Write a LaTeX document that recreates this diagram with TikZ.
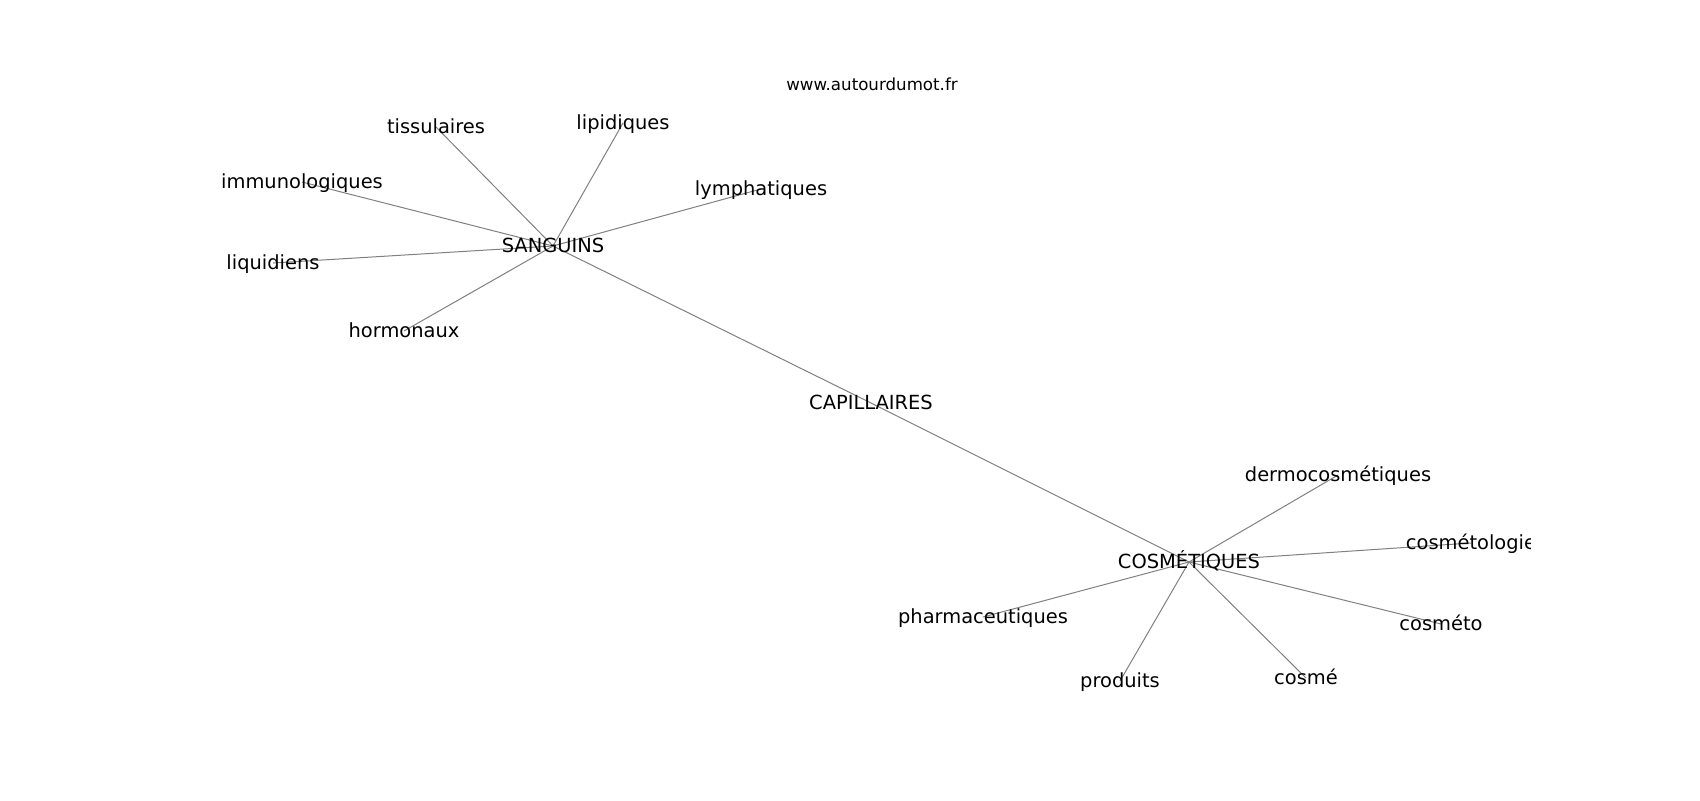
\documentclass[tikz,border=0pt]{standalone}
\usepackage{fontspec}
\setmainfont{DejaVu Sans}
\usetikzlibrary{backgrounds}
\tikzset{
  word/.style={
    inner sep=0pt, anchor=center, text height=1.0em, text depth=0pt,
    font=\fontsize{14}{17}\selectfont, color=black
  },
  link/.style={
    draw, color=black!50, line width=0.72pt
  }
}

\begin{document}
\begin{tikzpicture}[x=0.72pt, y=-0.72pt]
        \useasboundingbox (0,0) rectangle (1700,800);
        \node[word, font=\fontsize{12}{14}\selectfont] (site) at (872,84) {www.autourdumot.fr};

        \begin{scope}
        \clip (212.5,96) rectangle (1530,712);
        \node[word] (capi) at (871,403) {CAPILLAIRES};
        \node[word] (sang) at (553,246) {SANGUINS};
        \node[word] (cosm) at (1189,562) {COSMÉTIQUES};

        \node[word] (tiss) at (436,127) {tissulaires};
        \node[word] (lipi) at (623,123) {lipidiques};
        \node[word] (immu) at (302,182) {immunologiques};
        \node[word] (lymp) at (761,189) {lymphatiques};
        \node[word] (liqu) at (273,263) {liquidiens};
        \node[word] (horm) at (404,331) {hormonaux};

        \node[word] (derm) at (1338,475) {dermocosmétiques};
        \node[word] (logi) at (1471,543) {cosmétologie};
        \node[word] (phar) at (983,617) {pharmaceutiques};
        \node[word] (meto) at (1441,624) {cosméto};
        \node[word] (prod) at (1120,681) {produits};
        \node[word] (smee) at (1306,678) {cosmé};
        \end{scope}

        \begin{scope}[on background layer]
        \draw[link] (capi.center) -- (sang.center);
        \draw[link] (capi.center) -- (cosm.center);
        \draw[link] (sang.center) -- (tiss.center);
        \draw[link] (sang.center) -- (lipi.center);
        \draw[link] (sang.center) -- (immu.center);
        \draw[link] (sang.center) -- (lymp.center);
        \draw[link] (sang.center) -- (liqu.center);
        \draw[link] (sang.center) -- (horm.center);
        \draw[link] (cosm.center) -- (derm.center);
        \draw[link] (cosm.center) -- (logi.center);
        \draw[link] (cosm.center) -- (phar.center);
        \draw[link] (cosm.center) -- (meto.center);
        \draw[link] (cosm.center) -- (prod.center);
        \draw[link] (cosm.center) -- (smee.center);
        \end{scope}
      \end{tikzpicture}
\end{document}
